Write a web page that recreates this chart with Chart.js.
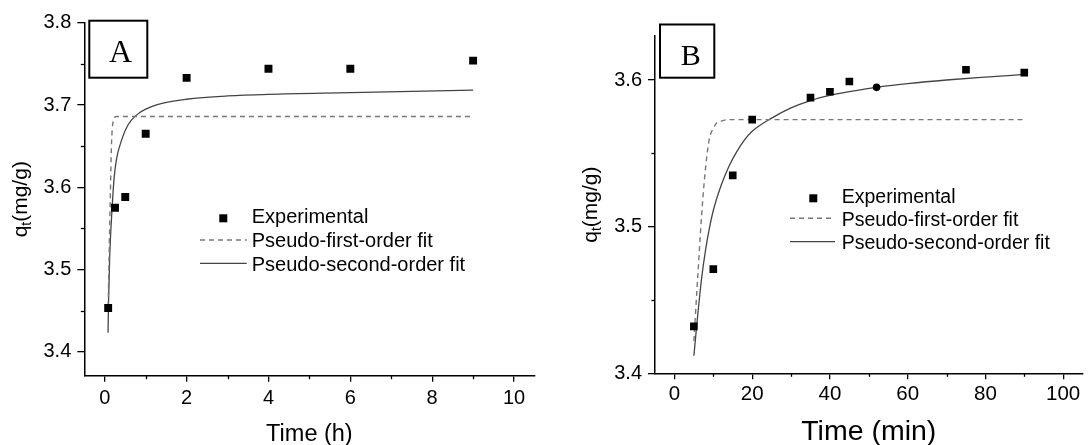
<!DOCTYPE html>
<html><head><meta charset="utf-8">
<script src="https://cdn.jsdelivr.net/npm/chart.js@4.4.0/dist/chart.umd.min.js"></script>
<style>
html,body{margin:0;padding:0;background:#fff;width:1088px;height:445px;overflow:hidden}
.c{position:absolute;top:0;width:544px;height:445px}
</style></head><body>
<div class="c" style="left:0"><canvas id="ca" width="544" height="445"></canvas></div>
<div class="c" style="left:544px"><canvas id="cb" width="544" height="445"></canvas></div>
<script>
// ---------- Panel A data (time in h) ----------
const timeA = [0.083, 0.25, 0.5, 1, 2, 4, 6, 9];
const expA = [3.453, 3.575, 3.588, 3.665, 3.733, 3.744, 3.744, 3.754];
const pfoTimeA = [0.083, 0.106, 0.139, 0.163, 0.204, 0.285, 1, 3, 6, 9];
const pfoA = [3.455, 3.516, 3.597, 3.650, 3.680, 3.686, 3.686, 3.686, 3.686, 3.686];
const psoTimeA = [0.08, 0.09, 0.12, 0.18, 0.23, 0.29, 0.41, 0.57, 0.78, 1.0, 1.4, 2, 3, 4, 6, 9];
const psoA = [3.423, 3.455, 3.515, 3.575, 3.612, 3.635, 3.657, 3.676, 3.688, 3.695, 3.702, 3.707, 3.711, 3.713, 3.715, 3.718];
const xTicksA = [0, 2, 4, 6, 8, 10];
const xMinorA = [1, 3, 5, 7, 9];
const yTicksA = [3.4, 3.5, 3.6, 3.7, 3.8];
const yMinorA = [3.45, 3.55, 3.65, 3.75];

// ---------- Panel B data (time in min) ----------
const timeB = [5, 10, 15, 20, 35, 40, 45, 52, 75, 90];
const expB = [3.432, 3.471, 3.535, 3.573, 3.588, 3.592, 3.599, 3.595, 3.607, 3.605];
const markerB = ['rect', 'rect', 'rect', 'rect', 'rect', 'rect', 'rect', 'circle', 'rect', 'rect'];
const pfoTimeB = [5, 6, 7, 8, 9, 10, 11, 12, 14, 20, 40, 60, 90];
const pfoB = [3.422, 3.466, 3.508, 3.540, 3.560, 3.567, 3.571, 3.572, 3.573, 3.573, 3.573, 3.573, 3.573];
const psoTimeB = [5, 6, 7, 8, 9, 10, 12, 14, 16, 18, 20, 25, 30, 35, 40, 45, 52, 60, 70, 80, 90];
const psoB = [3.412, 3.440, 3.465, 3.484, 3.499, 3.511, 3.528, 3.541, 3.551, 3.559, 3.565, 3.574, 3.581, 3.586, 3.5895, 3.592, 3.595, 3.5975, 3.600, 3.602, 3.6038];
const xTicksB = [0, 20, 40, 60, 80, 100];
const xMinorB = [10, 30, 50, 70, 90];
const yTicksB = [3.4, 3.5, 3.6];
const yMinorB = [3.45, 3.55];

const seriesNames = ['Experimental', 'Pseudo-first-order fit', 'Pseudo-second-order fit'];

const SANS = "'Liberation Sans', Arial, sans-serif";
const SERIF = "'Liberation Serif', 'Times New Roman', serif";

function zip(xs, ys) { return xs.map((x, i) => ({x: x, y: ys[i]})); }

const decoPlugin = {
  id: 'deco',
  afterDraw(chart, args, o) {
    const ctx = chart.ctx, xs = chart.scales.x, ys = chart.scales.y;
    ctx.save();
    // minor ticks
    ctx.strokeStyle = '#000'; ctx.lineWidth = 1.3;
    for (const v of o.xMinor) {
      const p = Math.round(xs.getPixelForValue(v)) + 0.5;
      ctx.beginPath(); ctx.moveTo(p, ys.bottom); ctx.lineTo(p, ys.bottom + o.minorLen); ctx.stroke();
    }
    for (const v of o.yMinor) {
      const p = Math.round(ys.getPixelForValue(v)) + 0.5;
      ctx.beginPath(); ctx.moveTo(xs.left, p); ctx.lineTo(xs.left - o.minorLen, p); ctx.stroke();
    }
    // panel letter box
    ctx.lineWidth = 2;
    ctx.strokeRect(o.box[0], o.box[1], o.box[2], o.box[3]);
    ctx.fillStyle = '#000';
    ctx.textAlign = 'center'; ctx.textBaseline = 'alphabetic';
    ctx.font = o.panelFont;
    ctx.fillText(o.panel, o.panelX, o.panelY);
    // x title
    ctx.font = o.xTitleFont;
    ctx.fillText(o.xTitle, (xs.left + xs.right) / 2, o.xTitleY);
    // y title q_t(mg/g)
    const big = o.yTitleSize, small = Math.round(big * 0.68);
    ctx.save();
    ctx.translate(o.yTitleX, (ys.top + ys.bottom) / 2);
    ctx.rotate(-Math.PI / 2);
    ctx.textAlign = 'left';
    ctx.font = big + 'px ' + SANS; const w1 = ctx.measureText('q').width;
    ctx.font = small + 'px ' + SANS; const w2 = ctx.measureText('t').width;
    ctx.font = big + 'px ' + SANS; const w3 = ctx.measureText('(mg/g)').width;
    let x0 = -(w1 + w2 + w3) / 2;
    ctx.font = big + 'px ' + SANS; ctx.fillText('q', x0, 0);
    ctx.font = small + 'px ' + SANS; ctx.fillText('t', x0 + w1, big * 0.22);
    ctx.font = big + 'px ' + SANS; ctx.fillText('(mg/g)', x0 + w1 + w2, 0);
    ctx.restore();
    // legend
    const L = o.legend;
    const ds = chart.data.datasets;
    ctx.font = L.size + 'px ' + SANS;
    ctx.textAlign = 'left'; ctx.textBaseline = 'alphabetic';
    // row 0: marker
    ctx.fillStyle = '#000';
    ctx.fillRect(L.markerX - 4, L.rowY[0] - 4, 8, 8);
    ctx.fillText(ds[0].label, L.textX, L.baseY[0]);
    for (let i = 1; i <= 2; i++) {
      ctx.save();
      ctx.strokeStyle = ds[i].borderColor; ctx.lineWidth = ds[i].borderWidth;
      ctx.setLineDash(ds[i].borderDash || []);
      ctx.beginPath(); ctx.moveTo(L.lineX0, L.rowY[i]); ctx.lineTo(L.lineX1, L.rowY[i]); ctx.stroke();
      ctx.restore();
      ctx.fillStyle = '#000';
      ctx.fillText(ds[i].label, L.textX, L.baseY[i]);
    }
    ctx.restore();
  }
};

function makeChart(id, cfg) {
  return new Chart(document.getElementById(id), {
    type: 'scatter',
    data: {
      datasets: [
        { label: seriesNames[0], data: zip(cfg.time, cfg.exp), showLine: false,
          pointStyle: cfg.markers || 'rect', pointRadius: cfg.markers ? cfg.markers.map(m => m === 'circle' ? 3.8 : 5.4) : 5.6,
          backgroundColor: '#000', borderColor: '#000', borderWidth: 0 },
        { label: seriesNames[1], data: zip(cfg.pfoTime, cfg.pfo), showLine: true, pointRadius: 0,
          borderColor: '#777', borderWidth: 1.4, borderDash: [5, 4], cubicInterpolationMode: 'monotone', fill: false },
        { label: seriesNames[2], data: zip(cfg.psoTime, cfg.pso), showLine: true, pointRadius: 0,
          borderColor: '#444', borderWidth: 1.3, cubicInterpolationMode: 'monotone', fill: false }
      ]
    },
    options: {
      responsive: false, animation: false, devicePixelRatio: 1,
      layout: { padding: { left: 0, top: cfg.padTop, right: cfg.padRight, bottom: 0 } },
      plugins: { legend: { display: false }, tooltip: { enabled: false }, deco: cfg.deco },
      scales: {
        x: {
          type: 'linear', min: cfg.xMin, max: cfg.xMax,
          afterBuildTicks(s) { s.ticks = cfg.xTicks.map(v => ({value: v})); },
          afterFit(s) { s.height = cfg.xAxisH; s.paddingLeft = 0; s.paddingRight = 0; },
          ticks: { font: { family: SANS, size: cfg.xTickSize }, color: '#000', padding: cfg.xTickPad, maxRotation: 0, autoSkip: false,
                   callback: v => String(v) },
          grid: { drawOnChartArea: false, drawTicks: true, tickLength: 6, color: '#000', lineWidth: 1.3 },
          border: { display: true, color: '#000', width: 1.5 }
        },
        y: {
          type: 'linear', min: cfg.yMin, max: cfg.yMax,
          afterBuildTicks(s) { s.ticks = cfg.yTicks.map(v => ({value: v})); },
          afterFit(s) { s.width = cfg.yAxisW; s.paddingTop = 0; s.paddingBottom = 0; },
          ticks: { font: { family: SANS, size: 20 }, color: '#000', padding: 6, autoSkip: false,
                   callback: v => v.toFixed(1) },
          grid: { drawOnChartArea: false, drawTicks: true, tickLength: 7, color: '#000', lineWidth: 1.3 },
          border: { display: true, color: '#000', width: 1.5 }
        }
      }
    },
    plugins: [decoPlugin]
  });
}

makeChart('ca', {
  time: timeA, exp: expA, pfoTime: pfoTimeA, pfo: pfoA, psoTime: psoTimeA, pso: psoA,
  xMin: -0.5, xMax: 10.5, yMin: 3.3707, yMax: 3.8,
  xTicks: xTicksA, yTicks: yTicksA,
  padTop: 22.8, padRight: 9.5, xAxisH: 69.3, yAxisW: 84.3, xTickSize: 20, xTickPad: 5,
  deco: {
    xMinor: xMinorA, yMinor: yMinorA, minorLen: 3.5,
    box: [89.3, 20.7, 58, 57], panel: 'A', panelFont: '32px ' + SERIF, panelX: 120.5, panelY: 61.7,
    xTitle: 'Time (h)', xTitleFont: '23.5px ' + SANS, xTitleY: 440.5,
    yTitleX: 26.7, yTitleSize: 21,
    legend: { size: 20, markerX: 223.3, textX: 251.7, lineX0: 200, lineX1: 246.7,
              rowY: [218.3, 240, 263.3], baseY: [223.3, 246.7, 270.7] }
  }
});

makeChart('cb', {
  time: timeB, exp: expB, markers: markerB, pfoTime: pfoTimeB, pfo: pfoB, psoTime: psoTimeB, pso: psoB,
  xMin: -5, xMax: 105, yMin: 3.4, yMax: 3.63,
  xTicks: xTicksB, yTicks: yTicksB,
  padTop: 36, padRight: 1, xAxisH: 71.7, yAxisW: 111, xTickSize: 20.5, xTickPad: 3,
  deco: {
    xMinor: xMinorB, yMinor: yMinorB, minorLen: 3.5,
    box: [116, 24.5, 54.3, 53.2], panel: 'B', panelFont: '30px ' + SERIF, panelX: 146.7, panelY: 65,
    xTitle: 'Time (min)', xTitleFont: '28.5px ' + SANS, xTitleY: 440,
    yTitleX: 52.7, yTitleSize: 21,
    legend: { size: 19.5, markerX: 269.3, textX: 297.7, lineX0: 246, lineX1: 291,
              rowY: [198.3, 218.3, 241.7], baseY: [202.7, 226, 249.3] }
  }
});
</script>
</body></html>
